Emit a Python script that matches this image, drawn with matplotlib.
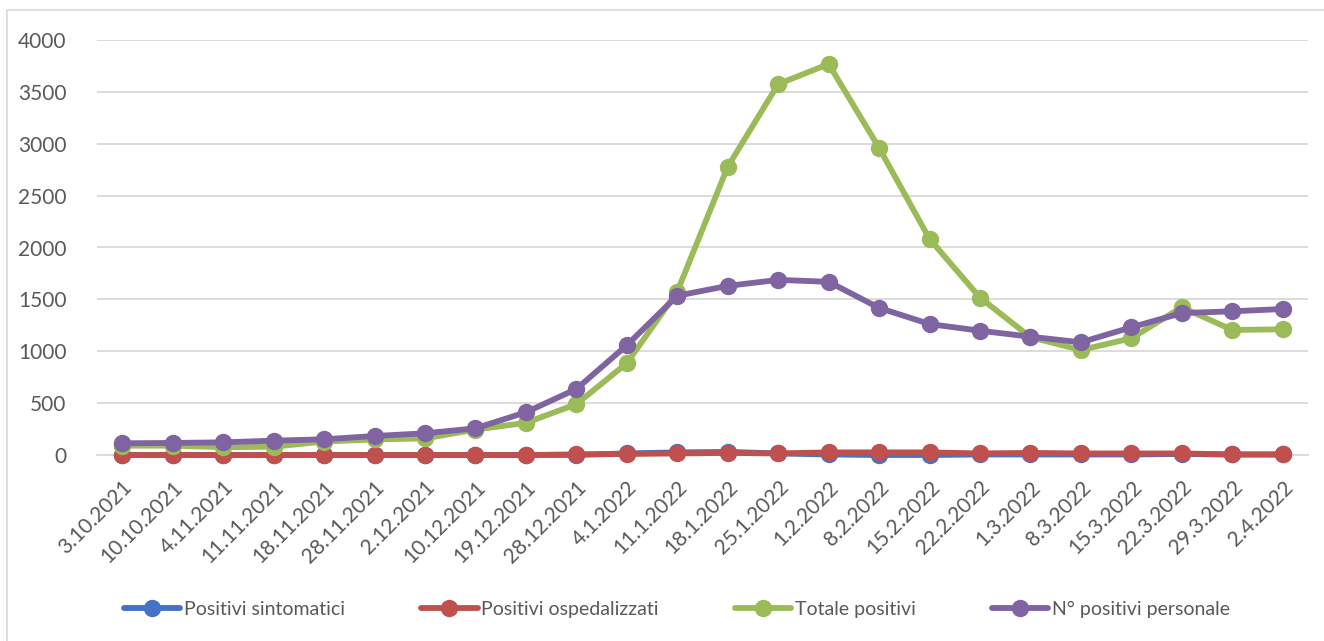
import matplotlib
matplotlib.use("Agg")
import matplotlib.pyplot as plt
from matplotlib.patches import Rectangle

dates = ["3.10.2021", "10.10.2021", "4.11.2021", "11.11.2021", "18.11.2021",
         "28.11.2021", "2.12.2021", "10.12.2021", "19.12.2021", "28.12.2021",
         "4.1.2022", "11.1.2022", "18.1.2022", "25.1.2022", "1.2.2022",
         "8.2.2022", "15.2.2022", "22.2.2022", "1.3.2022", "8.3.2022",
         "15.3.2022", "22.3.2022", "29.3.2022", "2.4.2022"]

sintomatici = [0, 0, 0, 0, 0, 0, 0, 0, 0, 2, 15, 25, 30, 15, 5,
               0, 0, 5, 5, 5, 5, 10, 5, 5]
ospedalizzati = [0, 0, 0, 0, 0, 0, 0, 0, 0, 5, 10, 15, 20, 15, 25,
                 25, 25, 15, 20, 15, 15, 15, 5, 5]
totale = [90, 90, 75, 80, 130, 150, 160, 245, 310, 490, 885, 1575, 2778, 3575, 3768,
          2960, 2082, 1517, 1135, 1012, 1125, 1424, 1205, 1212]
personale = [113, 116, 122, 138, 151, 183, 209, 257, 412, 636, 1058, 1535, 1630, 1688, 1669,
             1418, 1262, 1198, 1140, 1086, 1231, 1368, 1385, 1407]

series = [
    ("Positivi sintomatici", sintomatici, "#4472C4"),
    ("Positivi ospedalizzati", ospedalizzati, "#C0504D"),
    ("Totale positivi", totale, "#9BBB59"),
    ("N° positivi personale", personale, "#8064A2"),
]

text_col = "#595959"
plt.rcParams["font.family"] = ["Lato", "DejaVu Sans"]

fig = plt.figure(figsize=(13.24, 6.41), dpi=100)
W, H = 1324, 641
# outer chart border (cropped at right and bottom)
fig.patches.append(Rectangle((7 / W, -0.2), 1.2, 1.2 - 10 / H, transform=fig.transFigure,
                             fill=False, edgecolor="#D9D9D9", lw=1.2))

ax = fig.add_axes([97 / W, 1 - 455 / H, (1308 - 97) / W, (455 - 40) / H])
x = list(range(len(dates)))
for name, vals, col in series:
    ax.plot(x, vals, color=col, lw=4.2, marker="o", ms=11.5, label=name,
            clip_on=False, solid_capstyle="round", zorder=3)

ax.set_xlim(-0.5, len(dates) - 0.5)
ax.set_ylim(0, 4000)
ax.set_yticks(range(0, 4001, 500))
ax.yaxis.grid(True, color="#D9D9D9", lw=1.3)
ax.set_axisbelow(True)
for s in ["top", "right", "left"]:
    ax.spines[s].set_visible(False)
ax.spines["bottom"].set_color("#D9D9D9")
ax.spines["bottom"].set_linewidth(1.3)
ax.spines["bottom"].set_zorder(1)
ax.tick_params(axis="both", length=0, colors=text_col, labelsize=15)
ax.tick_params(axis="y", pad=22)
ax.set_xticks(x)
ax.set_xticklabels(dates, rotation=45, ha="right", rotation_mode="anchor")
ax.tick_params(axis="x", pad=16)

leg = fig.legend(loc="center", bbox_to_anchor=(0.5 + 15 / W, 1 - 609 / H), ncol=4, frameon=False,
                 fontsize=14, handlelength=2.9, columnspacing=3.9, handletextpad=0.2,
                 labelcolor=text_col)

fig.savefig("out.png", dpi=100)
